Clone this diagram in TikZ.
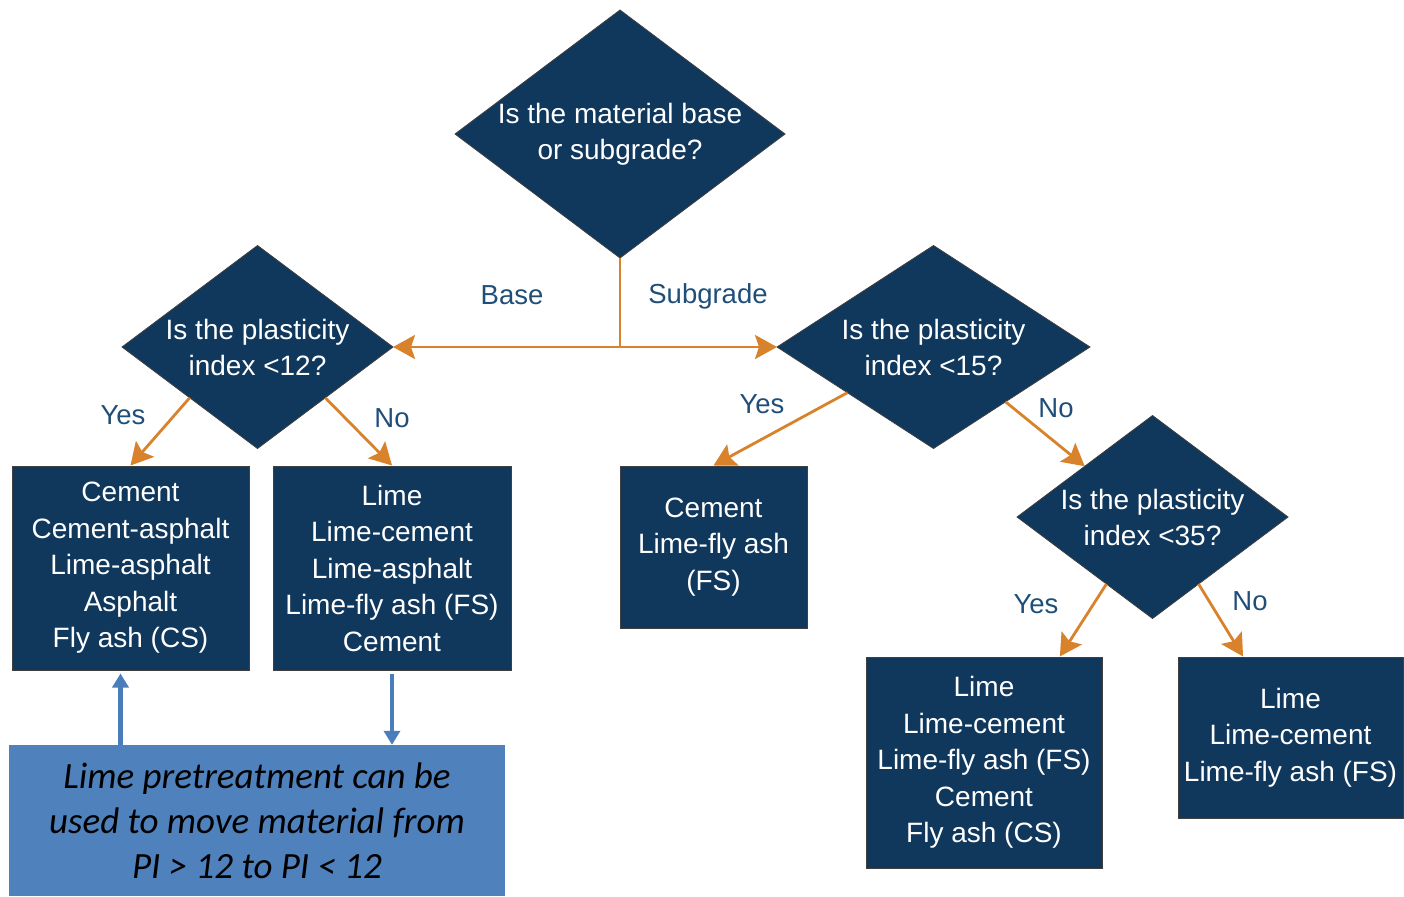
\documentclass[tikz,border=0pt]{standalone}
\usepackage{fontspec}
\setmainfont{Liberation Sans}
\newfontfamily\notefont{Carlito}
\usepackage{xcolor}
\usetikzlibrary{positioning, shapes.geometric, arrows.meta, calc}

\definecolor{navy}{HTML}{10375C}
\definecolor{flowc}{HTML}{D8832B}
\definecolor{labc}{HTML}{1F4E79}
\definecolor{notec}{HTML}{4F81BD}
\definecolor{hintc}{HTML}{4A7EBB}

\begin{document}
\begin{tikzpicture}[x=1pt, y=-1pt,
    decision/.style={draw=black!75, line width=0.8pt, diamond, fill=navy, inner sep=0pt, outer sep=0pt},
    qtext/.style={text=white, align=center, font=\fontsize{28}{36}\selectfont},
    outcome/.style={draw=black!75, line width=1pt, rectangle, fill=navy, text=white, align=center,
      inner sep=0pt, font=\fontsize{28}{36.5}\selectfont},
    flow/.style={draw=flowc, line width=2.8pt, -{Stealth[length=22pt, width=24pt, inset=4pt]}},
    lab/.style={text=labc, font=\fontsize{27.5}{32}\selectfont},
    hint/.style={draw=hintc, line width=4.5pt, -{Triangle[length=14pt, width=16pt]}}]
  \useasboundingbox (0,0) rectangle (1404,896);

  % questions
  \node[decision, minimum width=330pt, minimum height=248pt,
    label={[qtext]center:Is the material base\\or subgrade?}] (d1) at (620,134) {};
  \node[decision, minimum width=271pt, minimum height=203pt,
    label={[qtext]center:Is the plasticity\\index <12?}] (d2) at (257.5,347) {};
  \node[decision, minimum width=313pt, minimum height=203pt,
    label={[qtext]center:Is the plasticity\\index <15?}] (d3) at (933.5,347) {};
  \node[decision, minimum width=271pt, minimum height=203pt,
    label={[qtext]center:Is the plasticity\\index <35?}] (d4) at (1152.5,517) {};

  % outcomes
  \node[outcome, minimum width=237pt, minimum height=204pt] (b1) at (130.5,568)
    {Cement\\Cement-asphalt\\Lime-asphalt\\Asphalt\\Fly ash (CS)};
  \node[outcome, minimum width=238pt, minimum height=204pt] (b2) at (392,568)
    {Lime\\Lime-cement\\Lime-asphalt\\Lime-fly ash (FS)\\Cement};
  \node[outcome, minimum width=187pt, minimum height=162pt] (b3) at (713.5,547)
    {Cement\\Lime-fly ash\\(FS)};
  \node[outcome, minimum width=236pt, minimum height=211pt] (b4) at (984,762.5)
    {Lime\\Lime-cement\\Lime-fly ash (FS)\\Cement\\Fly ash (CS)};
  \node[outcome, minimum width=225pt, minimum height=161pt] (b5) at (1290.5,737.5)
    {Lime\\Lime-cement\\Lime-fly ash (FS)};

  % pretreatment note
  \node[fill=notec, minimum width=496pt, minimum height=151pt, inner sep=0pt, align=center,
    font=\notefont\itshape\fontsize{37}{45}\selectfont] (note) at (257,820.5)
    {Lime pretreatment can be\\used to move material from\\PI > 12 to PI < 12};

  % connectors
  \coordinate (split) at (d1.south |- d2.east);
  \draw[flowc, line width=2.8pt] (d1.south) -- (split);
  \draw[flow] (split) -- (d2.east);
  \draw[flow] (split) -- (d3.west);
  \draw[flow] (d2.south west) -- (b1.north);
  \draw[flow] (d2.south east) -- (b2.north);
  \draw[flow] ($(d3.west)!0.45!(d3.south)$) -- (b3.north);
  \draw[flow] ($(d3.south)!0.46!(d3.east)$) -- (d4.north west);
  \draw[flow] ($(d4.west)!0.66!(d4.south)$) -- ($(b4.north west)!0.82!(b4.north east)$);
  \draw[flow] ($(d4.south)!0.34!(d4.east)$) -- ($(b5.north west)!0.29!(b5.north east)$);
  \draw[hint] ([xshift=-10pt]b1.south |- note.north) -- ([xshift=-10pt, yshift=-3pt]b1.south);
  \draw[hint] ([yshift=-3pt]b2.south) -- (b2.south |- note.north);

  % branch labels
  \node[lab] at (512,295) {Base};
  \node[lab] at (708,296) {Subgrade};
  \node[lab] at (123,415) {Yes};
  \node[lab] at (392,418) {No};
  \node[lab] at (762,404) {Yes};
  \node[lab] at (1056,408) {No};
  \node[lab] at (1036,604) {Yes};
  \node[lab] at (1250,601) {No};
\end{tikzpicture}
\end{document}
